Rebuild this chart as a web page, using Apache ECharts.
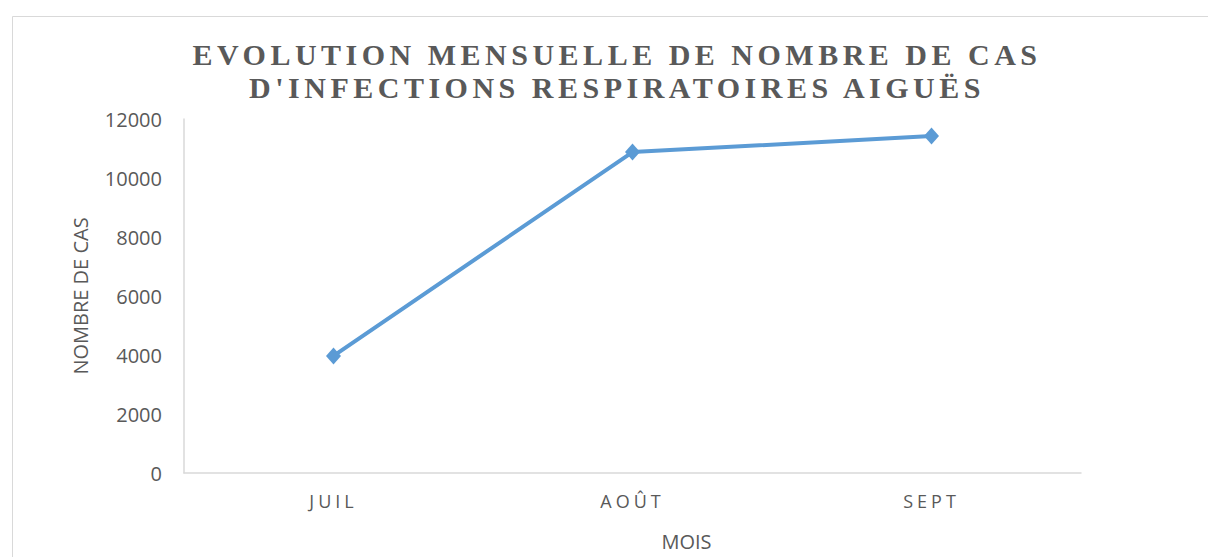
<!DOCTYPE html>
<html>
<head>
<meta charset="utf-8">
<script src="https://cdn.jsdelivr.net/npm/echarts@6/dist/echarts.min.js"></script>
<style>
  html, body { margin: 0; padding: 0; background: #fff; }
  #main { width: 1208px; height: 557px; }
</style>
</head>
<body>
<div id="main"></div>
<script>
// Data
const months = ['JUIL', 'AOÛT', 'SEPT'];
const cases = [3970, 10880, 11420];
const yTicks = [0, 2000, 4000, 6000, 8000, 10000, 12000];
const titleLines = ['EVOLUTION MENSUELLE DE NOMBRE DE CAS', "D'INFECTIONS RESPIRATOIRES AIGUËS"];

// SVG renderer so the spaced-out lettering can be applied to the text nodes
let myChart = echarts.init(document.getElementById('main'), null, { renderer: 'svg' });

let option = {
    backgroundColor: '#fff',
    animation: false,
    title: {
        text: titleLines.join('\n'),
        left: 612,
        textAlign: 'center',
        top: 33,
        textStyle: {
            fontFamily: '"Liberation Serif", "DejaVu Serif", serif',
            fontWeight: 'bold',
            fontSize: 30,
            lineHeight: 33,
            color: '#595959'
        }
    },
    // light frame around the chart
    graphic: [{
        type: 'rect',
        left: 10,
        top: 14,
        shape: { width: 1210, height: 560 },
        style: { fill: 'none', stroke: '#d9d9d9', lineWidth: 1 },
        silent: true
    }],
    grid: {
        left: 184,
        right: 127,
        top: 119,
        bottom: 84,
        outerBoundsMode: 'none'
    },
    xAxis: {
        type: 'category',
        data: months,
        boundaryGap: true,
        name: 'MOIS',
        nameLocation: 'middle',
        nameGap: 58,
        nameTextStyle: {
            fontFamily: '"Open Sans", sans-serif',
            fontSize: 20,
            color: '#595959',
            padding: [0, 0, 0, 108]
        },
        axisLine: { show: true, lineStyle: { color: '#d9d9d9', width: 1.5 } },
        axisTick: { show: false },
        axisLabel: {
            margin: 19,
            fontFamily: '"Open Sans", sans-serif',
            fontSize: 18,
            color: '#595959'
        },
        splitLine: { show: false }
    },
    yAxis: {
        type: 'value',
        min: yTicks[0],
        max: yTicks[yTicks.length - 1],
        interval: yTicks[1] - yTicks[0],
        name: 'NOMBRE DE CAS',
        nameLocation: 'middle',
        nameGap: 94,
        nameTextStyle: {
            fontFamily: '"Open Sans", sans-serif',
            fontSize: 20,
            color: '#595959'
        },
        axisLine: { show: true, lineStyle: { color: '#d9d9d9', width: 1.5 } },
        axisTick: { show: false },
        axisLabel: {
            margin: 22,
            fontFamily: '"Open Sans", sans-serif',
            fontSize: 20,
            color: '#595959',
            formatter: (v) => String(v)
        },
        splitLine: { show: false }
    },
    series: [{
        name: 'Cas',
        type: 'line',
        data: cases,
        symbol: 'diamond',
        symbolSize: [15, 17],
        lineStyle: { color: '#5b9bd5', width: 4 },
        itemStyle: { color: '#5b9bd5' }
    }]
};

option && myChart.setOption(option);

// Spread the letters of the title and the month labels like in the original
function spreadLetters() {
    document.querySelectorAll('#main svg text').forEach((node) => {
        let txt = node.textContent;
        if (titleLines.includes(txt)) {
            node.style.letterSpacing = '4.5px';
        } else if (months.includes(txt)) {
            node.style.letterSpacing = '4px';
        }
    });
}
spreadLetters();
myChart.on('finished', spreadLetters);
</script>
</body>
</html>
